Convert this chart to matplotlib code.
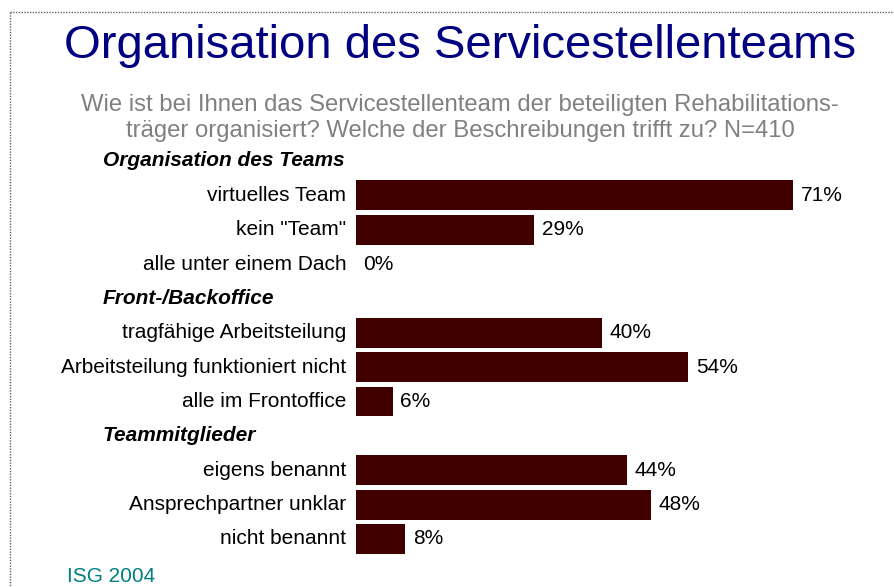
import numpy as np
import matplotlib.pyplot as plt
import matplotlib.transforms as mtransforms

plt.rcParams['font.family'] = ['Liberation Sans', 'DejaVu Sans']

# Data
groups = ['Organisation des Teams', 'Front-/Backoffice', 'Teammitglieder']
labels = [
    ['virtuelles Team', 'kein "Team"', 'alle unter einem Dach'],
    ['tragfähige Arbeitsteilung', 'Arbeitsteilung funktioniert nicht', 'alle im Frontoffice'],
    ['eigens benannt', 'Ansprechpartner unklar', 'nicht benannt'],
]
values = [
    [71, 29, 0],
    [40, 54, 6],
    [44, 48, 8],
]

W, H = 895, 587
fig = plt.figure(figsize=(W / 100, H / 100), dpi=100)

# axes placed in pixel terms
x0, px_per_pct = 356, 6.155
xmax = 85
y_first, step = 161, 34.36
y_top = y_first - step / 2
y_bot = y_first + 11 * step + step / 2
ax = fig.add_axes([x0 / W, 1 - y_bot / H, px_per_pct * xmax / W, (y_bot - y_top) / H])
ax.set_xlim(0, xmax)
ax.set_ylim(11.5, -0.5)
ax.axis('off')

bar_color = '#400000'
fs = 15
trans = mtransforms.blended_transform_factory(fig.transFigure, ax.transData)

row = 0
for g, labs, vals in zip(groups, labels, values):
    ax.text(103 / W, row, g, transform=trans, ha='left', va='center',
            fontsize=fs, fontweight='bold', style='italic', color='black')
    row += 1
    for lab, v in zip(labs, vals):
        ax.barh(row, v, height=0.87, color=bar_color, edgecolor='none')
        ax.text(-1.6, row, lab, ha='right', va='center', fontsize=fs, color='black')
        ax.text(v + 1.2, row, f'{v}%', ha='left', va='center', fontsize=fs, color='black')
        row += 1

# title and subtitle
fig.text(460 / W, 1 - 46 / H, 'Organisation des Servicestellenteams', ha='center', va='center',
         fontsize=34, color='#000080')
fig.text(460 / W, 1 - 118 / H,
         'Wie ist bei Ihnen das Servicestellenteam der beteiligten Rehabilitations-\n'
         'träger organisiert? Welche der Beschreibungen trifft zu? N=410',
         ha='center', va='center', fontsize=17.2, color='#808080', linespacing=1.25)

# source
fig.text(67 / W, 1 - 577 / H, 'ISG 2004', ha='left', va='center', fontsize=fs, color='#008080')

# dotted frame lines top and left
fig.add_artist(plt.Line2D([10 / W, 1], [1 - 12 / H, 1 - 12 / H], transform=fig.transFigure,
                          color='#666666', linestyle=(0, (1, 1)), linewidth=1))
fig.add_artist(plt.Line2D([10 / W, 10 / W], [1 - 12 / H, 0], transform=fig.transFigure,
                          color='#666666', linestyle=(0, (1, 1)), linewidth=1))

plt.savefig('out.png', dpi=100)
